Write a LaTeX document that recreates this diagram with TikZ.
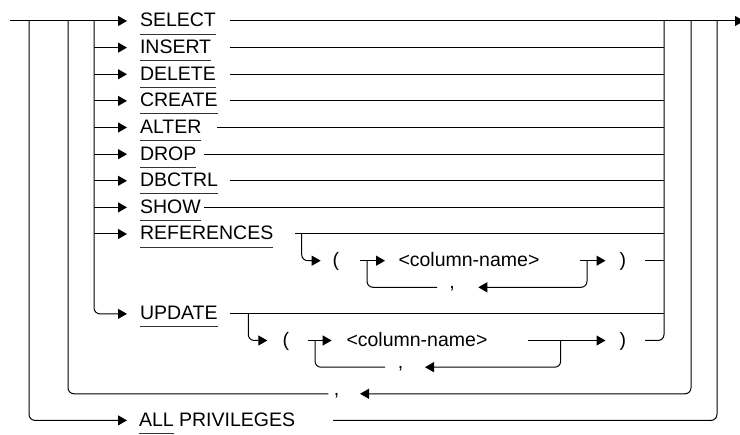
\documentclass[tikz,border=0pt]{standalone}
\usepackage{fontspec}
\setmainfont{Liberation Sans}
\usetikzlibrary{arrows.meta}

% keyword with its underline set a little below the baseline
\newcommand\ulkw[1]{\setbox0=\hbox{#1}\rlap{\color{black!80}\rule[-7.5pt]{\wd0}{0.9pt}}\box0}
\newcommand\diagfont{\fontsize{19.5pt}{23pt}\selectfont}

\begin{document}
\begin{tikzpicture}[x=1pt, y=-1pt, line width=1pt,
  arr/.style={-{Triangle[length=9pt,width=10pt]}},
  txt/.style={anchor=base west, inner sep=0pt, font=\diagfont},
  comma/.style={anchor=base, inner sep=0pt, font=\diagfont},
  rc/.style={rounded corners=6pt}]
\useasboundingbox (0,0) rectangle (740,435);

% main line and the branch columns
\coordinate (start)  at (10,21);
\coordinate (finish) at (744,21);
\coordinate (L1) at (29,21);
\coordinate (L2) at (68,21);
\coordinate (L3) at (94,21);
\coordinate (R1) at (664,21);
\coordinate (R2) at (691,21);
\coordinate (R3) at (717,21);

% privilege keywords: name / text / row / start of the outgoing line
\foreach \n/\t/\y/\s in {SEL/SELECT/21/230, INS/INSERT/47.6/230,
    DEL/DELETE/74.3/230, CRE/CREATE/100.9/230, ALT/ALTER/127.5/217,
    DRP/DROP/154.2/204, DBC/DBCTRL/180.8/230, SHW/SHOW/207.4/204,
    REF/REFERENCES/234/295, UPD/UPDATE/313.9/230} {
  \node[txt] (k\n) at (139.5,\y+6) {\ulkw{\t}};
  \coordinate (t\n) at (127,\y);
  \coordinate (s\n) at (\s,\y);
}
\node[txt] (kALL) at (138.5,426.4) {\ulkw{ALL}\ PRIVILEGES};
\coordinate (tALL) at (127,420.4);
\coordinate (sALL) at (333,420.4);

\draw[arr] (start) -- (tSEL);
\draw[arr] (sSEL) -- (finish);
\foreach \n in {INS,DEL,CRE,ALT,DRP,DBC,SHW,REF}
  \draw[arr] (L3 |- t\n) -- (t\n);
\draw[arr,rc] (L3) |- (tUPD);
\foreach \n in {INS,DEL,CRE,ALT,DRP,DBC,SHW,REF,UPD}
  \draw (s\n) -- (R1 |- s\n);

% REFERENCES ( <column-name> , ... )
\coordinate (refDrop)  at (301.7,234);
\coordinate (refTip)   at (320.7,260.7);
\node[txt] (refOpen)   at (332,266.7) {(};
\coordinate (refIn)    at (360,260.7);
\coordinate (refJoinL) at (367,260.7);
\coordinate (refColTip) at (385,260.7);
\node[txt] (refCol)    at (398,266.7) {<column-name>};
\coordinate (refOut)   at (580,260.7);
\coordinate (refJoinR) at (587,260.7);
\coordinate (refOutTip) at (605.5,260.7);
\node[txt] (refClose)  at (619,266.7) {)};
\coordinate (refEnd)   at (645,260.7);
\coordinate (refCommaTip) at (478.3,287.3);
\node[comma] (refComma) at (452,288.8) {,};
\coordinate (refCommaEnd) at (437,287.3);

\draw[arr,rc] (refDrop) |- (refTip);
\draw[arr] (refIn) -- (refColTip);
\draw[arr] (refOut) -- (refOutTip);
\draw (refEnd) -- (R1 |- refEnd);
\draw[arr,rc] (refJoinR) |- (refCommaTip);
\draw[rc] (refCommaEnd) -| (refJoinL);

% UPDATE ( <column-name> , ... )
\coordinate (updDrop)  at (248.3,313.9);
\coordinate (updTip)   at (267.3,340.5);
\node[txt] (updOpen)   at (282,346.5) {(};
\coordinate (updIn)    at (308.3,340.5);
\coordinate (updJoinL) at (315,340.5);
\coordinate (updColTip) at (331.7,340.5);
\node[txt] (updCol)    at (346,346.5) {<column-name>};
\coordinate (updOut)   at (528.3,340.5);
\coordinate (updJoinR) at (560.7,340.5);
\coordinate (updOutTip) at (605.5,340.5);
\node[txt] (updClose)  at (619,346.5) {)};
\coordinate (updEnd)   at (645,340.5);
\coordinate (updCommaTip) at (425,367.2);
\node[comma] (updComma) at (400.7,368.7) {,};
\coordinate (updCommaEnd) at (385,367.2);

\draw[arr,rc] (updDrop) |- (updTip);
\draw[arr] (updIn) -- (updColTip);
\draw[arr] (updOut) -- (updOutTip);
\draw[rc] (R1) |- (updEnd);
\draw[arr,rc] (updJoinR) |- (updCommaTip);
\draw[rc] (updCommaEnd) -| (updJoinL);

% repeat loop over the privilege list
\coordinate (outTip) at (360,393.8);
\node[comma] (outComma) at (336.7,395.3) {,};
\coordinate (outEnd) at (328.3,393.8);
\draw[arr,rc] (R2) |- (outTip);
\draw[rc] (outEnd) -| (L2);

% ALL PRIVILEGES path
\draw[arr,rc] (L1) |- (tALL);
\draw[rc] (sALL) -| (R3);
\end{tikzpicture}
\end{document}
